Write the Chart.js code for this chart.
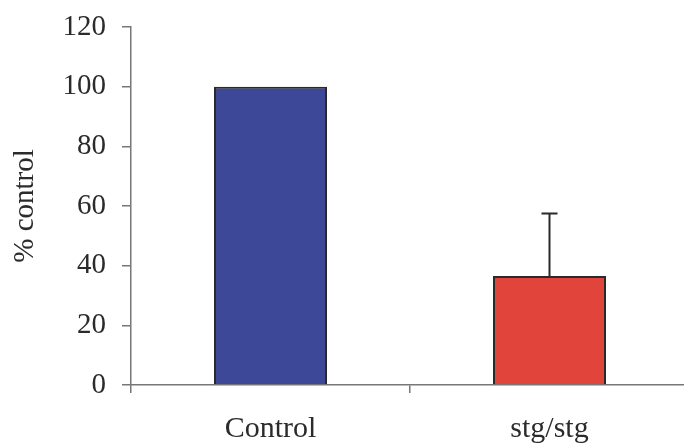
<!DOCTYPE html>
<html>
<head>
<meta charset="utf-8">
<script src="https://cdn.jsdelivr.net/npm/chart.js@4"></script>
<style>
  html, body { margin: 0; padding: 0; background: #fff; overflow: hidden; }
</style>
</head>
<body>
<canvas id="barChart" width="689" height="446"></canvas>
<script>
const categories = ['Control', 'stg/stg'];
const values = [100, 36.5];
const errors = [0, 21];
const yTicks = [0, 20, 40, 60, 80, 100, 120];

const errorBars = {
  id: 'errorBars',
  afterDatasetsDraw(chart) {
    const ctx = chart.ctx;
    const y = chart.scales.y;
    const meta = chart.getDatasetMeta(0);
    ctx.save();
    ctx.strokeStyle = '#2a2a2a';
    ctx.lineWidth = 2;
    meta.data.forEach(function(bar, i) {
      if (!errors[i]) return;
      const top = y.getPixelForValue(values[i] + errors[i]);
      ctx.beginPath();
      ctx.moveTo(bar.x, bar.y);
      ctx.lineTo(bar.x, top);
      ctx.moveTo(bar.x - 8, top);
      ctx.lineTo(bar.x + 8, top);
      ctx.stroke();
    });
    ctx.restore();
  }
};

const ctx = document.getElementById('barChart');
new Chart(ctx, {
  type: 'bar',
  data: {
    labels: categories,
    datasets: [{
      data: values,
      backgroundColor: ['#3e4898', '#e0443b'],
      borderColor: '#2a2a2a',
      borderWidth: 2,
      barPercentage: 0.405,
      categoryPercentage: 1
    }]
  },
  options: {
    responsive: false,
    animation: false,
    layout: { autoPadding: false, padding: { top: 27, left: 0, right: 0, bottom: 0 } },
    plugins: { legend: { display: false }, tooltip: { enabled: false } },
    scales: {
      x: {
        afterFit: function(s) { s.height = 61; s.paddingLeft = 0; s.paddingRight = 0; },
        grid: { drawOnChartArea: false, tickLength: 8, color: '#777', lineWidth: 1.5 },
        border: { color: '#777', width: 1.5 },
        ticks: { padding: 18, color: '#2b2b2b', font: { family: 'Liberation Serif', size: 30 } }
      },
      y: {
        min: 0,
        max: 120,
        afterFit: function(s) { s.width = 131; s.paddingTop = 0; s.paddingBottom = 0; },
        afterBuildTicks: function(s) { s.ticks = yTicks.map(v => ({ value: v })); },
        grid: { drawOnChartArea: false, tickLength: 9, color: '#777', lineWidth: 1.5 },
        border: { color: '#777', width: 1.5 },
        ticks: { padding: 16, color: '#2b2b2b', font: { family: 'Liberation Serif', size: 29 } },
        title: {
          display: true,
          text: '% control',
          color: '#2b2b2b',
          padding: { top: 8, bottom: 0 },
          font: { family: 'Liberation Serif', size: 29 }
        }
      }
    }
  },
  plugins: [errorBars]
});
</script>
</body>
</html>
